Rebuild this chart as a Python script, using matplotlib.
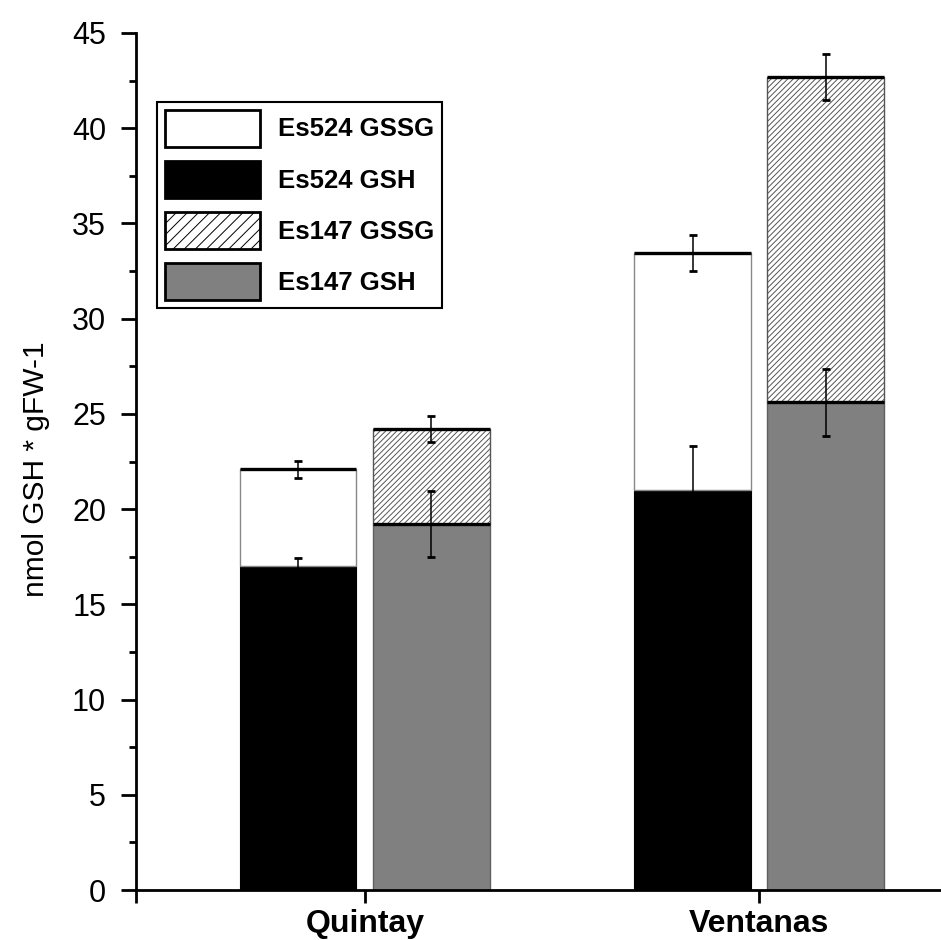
import numpy as np
import matplotlib.pyplot as plt
from matplotlib.patches import Patch

plt.rcParams['font.family'] = ['Liberation Sans', 'DejaVu Sans']
plt.rcParams['hatch.linewidth'] = 0.7

# data (nmol GSH * gFW-1)
categories = ['Quintay', 'Ventanas']
es524_gsh = [17.0, 21.0]
es524_gsh_err = [0.45, 2.3]
es524_gssg = [5.1, 12.45]
es524_gssg_err = [0.45, 0.93]
es147_gsh = [19.2, 25.6]
es147_gsh_err = [1.73, 1.77]
es147_gssg = [5.0, 17.1]
es147_gssg_err = [0.68, 1.2]

x = np.arange(1, len(categories) + 1)
w = 0.296
off = 0.169

fig = plt.figure(figsize=(9.41, 9.40), dpi=100)
ax = fig.add_axes([136 / 941, 50 / 940, 1 - 136 / 941, 857 / 940])

x1 = x - off
x2 = x + off
top524 = np.add(es524_gsh, es524_gssg)
top147 = np.add(es147_gsh, es147_gssg)

ax.bar(x1, es524_gsh, w, color='black', edgecolor='black', linewidth=0.8, zorder=2)
ax.bar(x1, es524_gssg, w, bottom=es524_gsh, color='white', edgecolor='#888888',
       linewidth=1.0, zorder=2)
ax.bar(x2, es147_gsh, w, color='#808080', edgecolor='#606060', linewidth=1.0, zorder=2)
ax.bar(x2, es147_gssg, w, bottom=es147_gsh, color='white', edgecolor='#555555',
       hatch='//////', linewidth=1.0, zorder=2)

# thick lines on top of the stacked segments
ax.hlines(top524, x1 - w / 2, x1 + w / 2, color='black', lw=2.4, zorder=3)
ax.hlines(top147, x2 - w / 2, x2 + w / 2, color='black', lw=2.4, zorder=3)
ax.hlines(es147_gsh, x2 - w / 2, x2 + w / 2, color='black', lw=2.4, zorder=3)

ekw = dict(fmt='none', ecolor='black', elinewidth=1.1, capsize=3, capthick=2, zorder=4)
ax.errorbar(x1, es524_gsh, yerr=es524_gsh_err, **ekw)
ax.errorbar(x1, top524, yerr=es524_gssg_err, **ekw)
ax.errorbar(x2, es147_gsh, yerr=es147_gsh_err, **ekw)
ax.errorbar(x2, top147, yerr=es147_gssg_err, **ekw)

x_lo = 0.42
ax.set_xlim(x_lo, 2.461)
ax.set_ylim(0, 45)
ax.set_yticks(np.arange(0, 46, 5))
ax.set_yticks(np.arange(2.5, 45, 5), minor=True)
ax.set_xticks([x_lo] + list(x))
ax.set_xticklabels([''] + categories, fontsize=23, fontweight='bold')

for s in ['top', 'right']:
    ax.spines[s].set_visible(False)
for s in ['left', 'bottom']:
    ax.spines[s].set_linewidth(2)

ax.tick_params(axis='y', which='major', direction='out', length=11, width=2,
               pad=10.5, labelsize=22)
ax.tick_params(axis='y', which='minor', direction='out', length=5, width=2)
ax.tick_params(axis='x', which='major', direction='out', length=9, width=2, pad=5)

ax.set_ylabel('nmol GSH * gFW-1', fontsize=21.5)
ax.yaxis.set_label_coords(-0.107, 0.491)

handles = [
    Patch(facecolor='white', edgecolor='black', linewidth=2),
    Patch(facecolor='black', edgecolor='black', linewidth=2),
    Patch(facecolor='white', edgecolor='black', hatch='///', linewidth=2),
    Patch(facecolor='#808080', edgecolor='black', linewidth=2),
]
labels = ['Es524 GSSG', 'Es524 GSH', 'Es147 GSSG', 'Es147 GSH']
leg = ax.legend(handles, labels, loc='upper left',
                bbox_to_anchor=(157 / 941, 1 - 102 / 940),
                bbox_transform=fig.transFigure, borderaxespad=0,
                prop={'size': 18.5, 'weight': 'bold'},
                handlelength=3.7, handleheight=1.84, labelspacing=0.55,
                handletextpad=0.7, borderpad=0.3, fancybox=False, framealpha=1)
leg.get_frame().set_edgecolor('black')
leg.get_frame().set_linewidth(1.5)

fig.savefig('out.png', dpi=100)
